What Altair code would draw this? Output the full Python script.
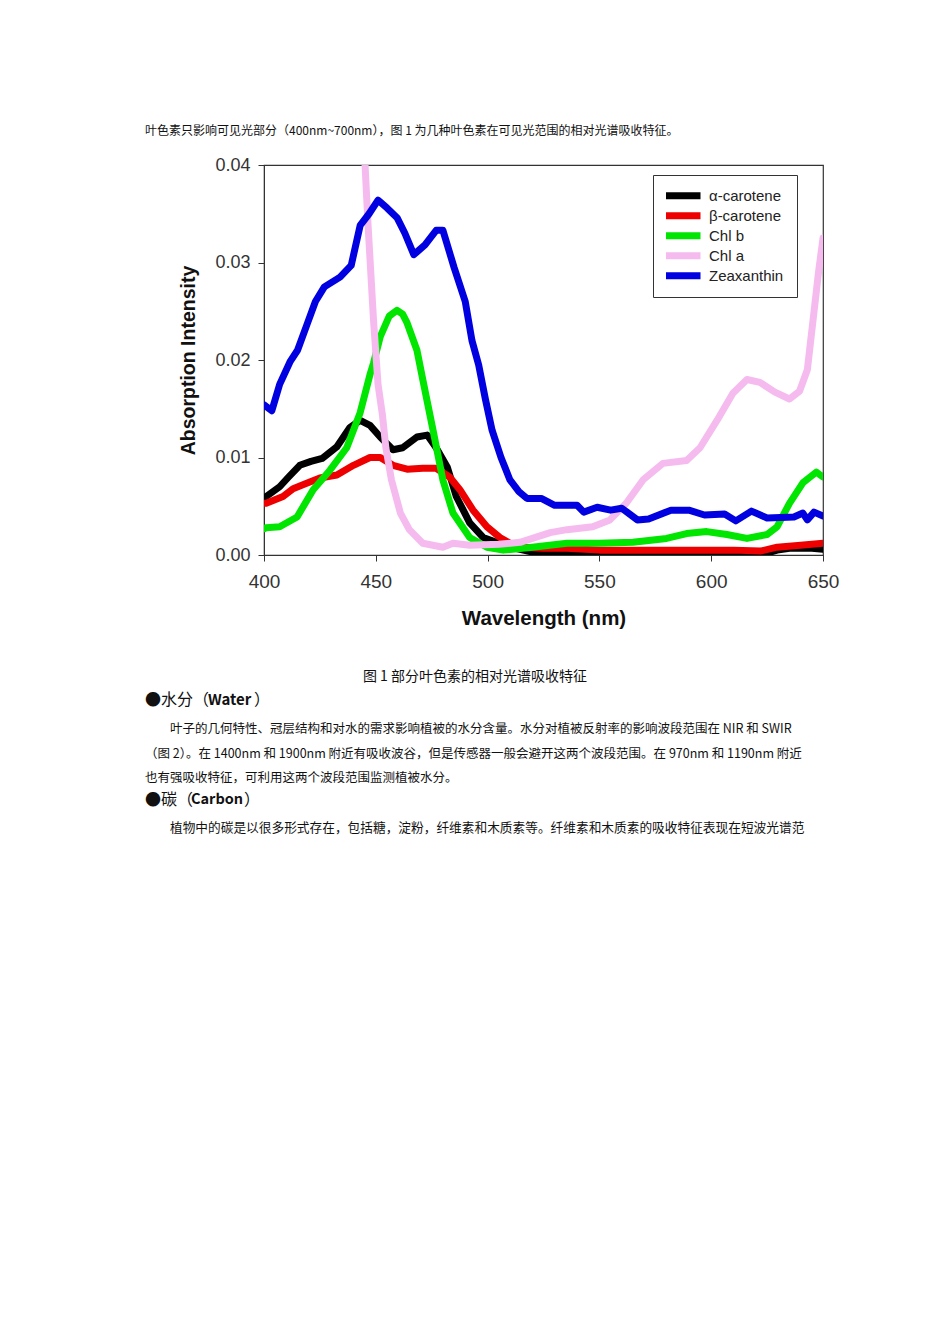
import altair as alt
import pandas as pd

# ---------------- data ----------------
series_names = ["α-carotene", "β-carotene", "Chl b", "Chl a", "Zeaxanthin"]
series_colors = ["#000000", "#ee0000", "#00e600", "#f5bbef", "#0000e0"]

alpha_x = [400, 401, 407, 411, 416, 421, 426, 432.6, 438.5, 443, 447.4, 452, 457.7, 462, 468.4,
           473, 477, 482, 486, 492, 498, 504, 510, 520, 535, 550, 565, 580, 595, 605, 610, 615,
           620, 625, 629.5, 635, 640, 645, 650]
alpha_y = [0.0058, 0.006, 0.007, 0.008, 0.0092, 0.0096, 0.0099, 0.0111, 0.0131, 0.0138, 0.0133,
           0.0121, 0.0108, 0.011, 0.0121, 0.0123, 0.011, 0.009, 0.006, 0.0033, 0.0018, 0.0013,
           0.0008, 0.0003, 0.0002, 0.0002, 0.0002, 0.0002, 0.0002, 0.0002, 0.0, 0.0, 0.0, 0.0002,
           0.0005, 0.0007, 0.0007, 0.0007, 0.0006]

beta_x = [400, 401, 408.5, 413, 417.4, 425, 432.6, 440, 447.4, 452, 457.7, 464, 471, 477, 483,
          487.6, 493.5, 499.7, 505.5, 510, 514.5, 525, 535.5, 550, 565, 580, 595, 610, 622,
          629.5, 640, 650]
beta_y = [0.0053, 0.0053, 0.006, 0.0068, 0.0072, 0.0079, 0.0082, 0.0092, 0.01, 0.01, 0.0092,
          0.0088, 0.0089, 0.0089, 0.008, 0.0067, 0.0046, 0.0029, 0.0018, 0.0012, 0.0008, 0.0007,
          0.0007, 0.0005, 0.0005, 0.0005, 0.0005, 0.0005, 0.0004, 0.0008, 0.001, 0.0012]

chlb_x = [400, 401, 407, 414.8, 422, 429.5, 437, 443, 447.4, 449, 452, 456, 459.5, 462, 464,
          468.4, 471, 475.6, 480, 484.5, 492, 499.7, 507, 520, 535.5, 550, 565, 580, 589, 598,
          607, 616, 625, 629.5, 635, 641, 647, 650]
chlb_y = [0.0027, 0.0028, 0.0029, 0.0039, 0.0067, 0.0087, 0.011, 0.0146, 0.0185, 0.0197, 0.0224,
          0.0245, 0.0251, 0.0247, 0.0238, 0.021, 0.018, 0.0128, 0.0077, 0.0043, 0.0018, 0.0008,
          0.0005, 0.0008, 0.0012, 0.0012, 0.0013, 0.0017, 0.0022, 0.0024, 0.0021, 0.0017, 0.0021,
          0.0029, 0.0053, 0.0074, 0.0085, 0.008]

chla_x = [444, 446.5, 449, 451, 453, 454.5, 457, 461, 465, 471, 480, 484.5, 492, 505, 514.5,
          528, 535.5, 547, 554.7, 562, 569.5, 578.4, 589, 595, 602.6, 609.7, 616, 621.8, 628.5,
          635, 639.5, 643, 645.5, 648, 650]
chla_y = [0.0455, 0.034, 0.024, 0.0175, 0.0143, 0.011, 0.0077, 0.0043, 0.0026, 0.0012, 0.0008,
          0.0012, 0.001, 0.0011, 0.0013, 0.0023, 0.0026, 0.0029, 0.0036, 0.0053, 0.0077, 0.0094,
          0.0097, 0.011, 0.0138, 0.0166, 0.018, 0.0177, 0.0167, 0.016, 0.0168, 0.019, 0.024,
          0.029, 0.0325]

zea_x = [400, 403.5, 407, 411.6, 415, 419, 423, 427, 434, 439, 443, 447, 451, 455, 459.5, 463,
         467, 472, 477, 480, 485, 490, 493, 496, 499, 502, 506, 510, 514, 517.6, 524, 530, 540,
         543, 549, 555, 560, 567, 572, 582, 590, 597, 606, 611, 618, 625, 637, 641, 643, 646, 650]
zea_y = [0.0154, 0.0148, 0.0175, 0.0198, 0.021, 0.0235, 0.026, 0.0275, 0.0285, 0.0297, 0.0338,
         0.035, 0.0364, 0.0356, 0.0346, 0.033, 0.0308, 0.0318, 0.0333, 0.0333, 0.0295, 0.026,
         0.022, 0.0195, 0.016, 0.0128, 0.01, 0.0077, 0.0065, 0.0058, 0.0058, 0.0051, 0.0051,
         0.0044, 0.0049, 0.0046, 0.0048, 0.0036, 0.0037, 0.0046, 0.0046, 0.0041, 0.0042, 0.0035,
         0.0045, 0.0038, 0.0039, 0.0043, 0.0036, 0.0044, 0.004]

x_ticks = [400, 450, 500, 550, 600, 650]
y_ticks = [0.00, 0.01, 0.02, 0.03, 0.04]

# document text around the figure
intro_line = "叶色素只影响可见光部分（400nm~700nm），图 1 为几种叶色素在可见光范围的相对光谱吸收特征。"
caption = "图 1 部分叶色素的相对光谱吸收特征"
water_head = ["●水分（", "Water", "）"]
water_para = [
    "叶子的几何特性、冠层结构和对水的需求影响植被的水分含量。水分对植被反射率的影响波段范围在 NIR 和 SWIR",
    "（图 2）。在 1400nm 和 1900nm 附近有吸收波谷，但是传感器一般会避开这两个波段范围。在 970nm 和 1190nm 附近",
    "也有强吸收特征，可利用这两个波段范围监测植被水分。",
]
carbon_head = ["●碳（", "Carbon", "）"]
carbon_para = ["植物中的碳是以很多形式存在，包括糖，淀粉，纤维素和木质素等。纤维素和木质素的吸收特征表现在短波光谱范"]

# ---------------- build table ----------------
rows = []
for name, xs, ys in zip(series_names,
                        [alpha_x, beta_x, chlb_x, chla_x, zea_x],
                        [alpha_y, beta_y, chlb_y, chla_y, zea_y]):
    for xv, yv in zip(xs, ys):
        rows.append({"Pigment": name, "Wavelength": xv, "Intensity": yv})
df = pd.DataFrame(rows)

AX_FONT = "Liberation Sans"
CJK = "Noto Sans CJK SC"

lines = alt.Chart(df).mark_line(
    strokeWidth=7, strokeJoin="round", strokeCap="round", clip=True
).encode(
    x=alt.X("Wavelength:Q",
            scale=alt.Scale(domain=[400, 650], nice=False, zero=False),
            axis=alt.Axis(values=x_ticks, title="Wavelength (nm)", grid=False,
                          labelFontSize=19, labelFont=AX_FONT, labelColor="#333",
                          labelFlush=False, labelPadding=11, tickSize=6, tickColor="#333",
                          domainColor="#333", titleFont=AX_FONT, titleFontSize=20.5,
                          titleFontWeight="bold", titleColor="#111", titlePadding=17)),
    y=alt.Y("Intensity:Q",
            scale=alt.Scale(domain=[0, 0.04], nice=False),
            axis=alt.Axis(values=y_ticks, format=".2f", title="Absorption Intensity",
                          grid=False, labelFontSize=18, labelFont=AX_FONT, labelColor="#333",
                          labelFlush=False, labelPadding=8, tickSize=6, tickColor="#333",
                          domainColor="#333", titleFont=AX_FONT, titleFontSize=19.5,
                          titleFontWeight="bold", titleColor="#111", titlePadding=16)),
    color=alt.Color("Pigment:N",
                    scale=alt.Scale(domain=series_names, range=series_colors),
                    legend=alt.Legend(title=None, orient="none", legendX=389, legendY=10,
                                      symbolType="M-2.5,0L2.5,0", symbolSize=256,
                                      symbolOffset=3, symbolStrokeWidth=7,
                                      clipHeight=15.5, rowPadding=4,
                                      labelFont=AX_FONT, labelFontSize=15,
                                      labelColor="#222", labelOffset=17,
                                      padding=13, strokeColor="#333",
                                      fillColor="white")),
)


def text_mark(text, X, Y, size, weight="normal", align="left"):
    return alt.Chart(pd.DataFrame({"t": [text]})).mark_text(
        font=CJK, fontSize=size, fontWeight=weight, align=align, baseline="middle",
        color="#111"
    ).encode(text="t:N", x=alt.value(X - 264), y=alt.value(Y - 165))


texts = [
    text_mark(intro_line, 145, 131, 12),
    text_mark(caption, 475, 677, 14, align="center"),
    text_mark(water_head[0], 145, 700, 16),
    text_mark(water_head[1], 208, 700, 15, weight="bold"),
    text_mark(water_head[2], 254, 700, 16),
    text_mark(water_para[0], 170, 729, 12.5),
    text_mark(water_para[1], 145, 754, 12.5),
    text_mark(water_para[2], 145, 778, 12.5),
    text_mark(carbon_head[0], 145, 800, 16),
    text_mark(carbon_head[1], 191, 800, 14.5, weight="bold"),
    text_mark(carbon_head[2], 244, 800, 16),
    text_mark(carbon_para[0], 170, 828, 12.7),
]

chart = alt.layer(lines, *texts).properties(
    width=559, height=390,
    autosize=alt.AutoSizeParams(type="none"),
    padding={"left": 256, "top": 157, "right": 100, "bottom": 300},
    background="white",
).configure_view(stroke="#333", strokeWidth=1.2)

chart.save("out.html", embed_options={"renderer": "svg", "actions": False})
